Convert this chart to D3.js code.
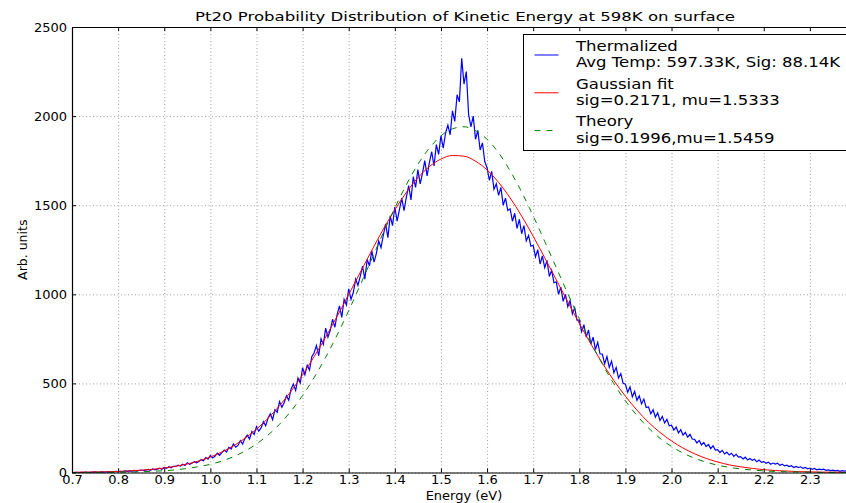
<!DOCTYPE html>
<html>
<head>
<meta charset="utf-8">
<script src="https://cdn.jsdelivr.net/npm/d3@7"></script>
<style>
  body { margin: 0; background: #fff; }
  svg { font-family: "DejaVu Sans", sans-serif; }
</style>
</head>
<body>
<svg width="846" height="503"></svg>
<script>
// thermalized histogram, 0.005 eV bins from 0.700 to 2.400
var blueStart = 0.7, blueStep = 0.005;
var blueValues = [
  0,0,1,0,1, 1,2,0,1,2, 3,1,2,4,2, 3,5,2,4,6,
  4,7,5,9,6, 9,7,12,8,11, 14,10,13,17,12, 20,15,19,24,18,
  28,23,32,26,35, 34,41,36,46,39, 55,46,52,61,54, 62,72,66,84,75,
  95,82,91,108,96, 112,126,115,141,132, 160,142,152,178,160, 192,210,188,230,214,
  258,232,250,285,262, 305,330,296,352,338, 398,366,392,430,405, 468,496,460,530,502,
  588,548,602,575,650, 672,712,655,750,718, 810,760,798,860,815, 888,935,870,972,940,
  1030,972,1010,1085,1050, 1100,1158,1085,1195,1160, 1245,1180,1230,1300,1262, 1330,1395,1318,1440,1385,
  1490,1410,1475,1540,1470, 1545,1610,1530,1660,1600, 1700,1620,1680,1750,1665, 1740,1800,1720,1840,1785,
  1890,1820,1905,1950,1895, 2030,1970,2120,2080,2325, 2180,2250,2010,1940,2000, 1870,1920,1810,1850,1745,
  1710,1640,1690,1590,1620, 1555,1600,1500,1540,1470, 1480,1410,1455,1370,1420, 1340,1385,1300,1330,1270,
  1275,1210,1250,1170,1215, 1150,1190,1100,1135,1065, 1070,1000,1040,960,1000, 930,965,890,925,855,
  855,790,830,760,800, 720,760,690,730,665, 665,610,650,590,625, 560,590,530,555,500,
  495,450,480,425,455, 405,430,385,412,365, 368,330,352,310,335, 292,315,278,298,262,
  265,238,255,222,240, 210,225,198,214,188, 186,166,180,155,168, 146,158,134,150,126,
  128,112,124,104,114, 98,108,90,102,86, 89,76,86,70,79, 68,74,60,70,57,
  61,52,58,46,53, 47,52,40,46,37, 41,33,38,28,34, 28,32,24,29,21,
  25,18,23,15,19, 16,19,12,15,11, 13,9,12,7,10, 8,10,6,9,5,
  7
];

// smooth curves, 0.025 eV apart from 0.700 to 2.400
var curveStart = 0.7, curveStep = 0.025;
var fitValues = [
  1,2,3,4,6,9,13,18,25,35,48,65,87,115,149,192,243,304,375,456,
  548,650,760,877,999,1123,1246,1365,1474,1572,1654,1717,1759,1779,1775,1747,1698,1628,1541,1439,
  1326,1205,1082,958,837,722,614,516,428,350,282,225,177,137,105,79,59,43,32,23,
  16,11,8,5,4,2,2,1,1
];
var theoryValues = [
  0,0,1,1,2,3,4,7,10,15,23,33,46,64,89,120,160,210,271,345,
  432,533,646,772,908,1052,1198,1345,1485,1615,1729,1821,1889,1929,1940,1919,1870,1794,1693,1574,
  1440,1297,1150,1004,863,730,608,498,402,320,250,192,146,109,80,58,41,29,20,14,
  9,6,4,3,2,1,1,0,0
];

var xTicks = [0.7,0.8,0.9,1.0,1.1,1.2,1.3,1.4,1.5,1.6,1.7,1.8,1.9,2.0,2.1,2.2,2.3];
var yTicks = [0,500,1000,1500,2000,2500];

var legendLabels = [
  ["Thermalized", "Avg Temp: 597.33K, Sig: 88.14K"],
  ["Gaussian fit", "sig=0.2171, mu=1.5333"],
  ["Theory", "sig=0.1996,mu=1.5459"]
];
var legendColors = ["#0000ff", "#ff0000", "#008000"];

function drawChart() {
  var pLeft = 72, pTop = 27, pRight = 856, pBottom = 472.5;
  var svg = d3.select("svg");

  var x = d3.scaleLinear().domain([0.7, 2.4]).range([pLeft, pRight]);
  var y = d3.scaleLinear().domain([0, 2500]).range([pBottom, pTop]);

  function series(start, step, vals) {
    return vals.map(function(v, i) { return [start + i * step, v]; });
  }
  function gridStyle(g) {
    g.select(".domain").remove();
    g.selectAll("line").attr("stroke", "#888").attr("stroke-width", 0.8).attr("stroke-dasharray", "1,2.5");
  }

  // grid
  svg.append("g")
    .attr("transform", "translate(0," + pBottom + ")")
    .call(d3.axisBottom(x).tickValues(xTicks).tickSize(-(pBottom - pTop)).tickFormat(""))
    .call(gridStyle);
  svg.append("g")
    .attr("transform", "translate(" + pLeft + ",0)")
    .call(d3.axisLeft(y).tickValues(yTicks).tickSize(-(pRight - pLeft)).tickFormat(""))
    .call(gridStyle);

  svg.append("clipPath").attr("id", "plot")
    .append("rect").attr("x", pLeft).attr("y", pTop)
    .attr("width", pRight - pLeft).attr("height", pBottom - pTop + 2);

  var line = d3.line().x(function(d) { return x(d[0]); }).y(function(d) { return y(d[1]); });
  var smooth = d3.line().curve(d3.curveMonotoneX)
    .x(function(d) { return x(d[0]); }).y(function(d) { return y(d[1]); });

  var plot = svg.append("g").attr("clip-path", "url(#plot)");
  plot.append("path")
    .attr("d", line(series(blueStart, blueStep, blueValues)))
    .attr("fill", "none").attr("stroke", legendColors[0]).attr("stroke-width", 1.2);
  plot.append("path")
    .attr("d", smooth(series(curveStart, curveStep, fitValues)))
    .attr("fill", "none").attr("stroke", legendColors[1]).attr("stroke-width", 1);
  plot.append("path")
    .attr("d", smooth(series(curveStart, curveStep, theoryValues)))
    .attr("fill", "none").attr("stroke", legendColors[2]).attr("stroke-width", 1)
    .attr("stroke-dasharray", "6,6");

  // axes, ticks pointing inward
  function styleAxis(g) {
    g.select(".domain").attr("stroke", "#000").attr("stroke-width", 1.2);
    g.selectAll(".tick line").attr("stroke", "#000");
    g.selectAll(".tick text").attr("fill", "#000").style("font-size", "13px")
      .style("font-family", "DejaVu Sans");
  }
  svg.append("g").attr("transform", "translate(0," + pBottom + ")")
    .call(d3.axisBottom(x).tickValues(xTicks).tickSizeInner(-4).tickSizeOuter(0).tickPadding(2)
      .tickFormat(d3.format(".1f")))
    .call(styleAxis);
  svg.append("g").attr("transform", "translate(0," + pTop + ")")
    .call(d3.axisTop(x).tickValues(xTicks).tickSizeInner(-4).tickSizeOuter(0).tickFormat(""))
    .call(styleAxis);
  svg.append("g").attr("transform", "translate(" + pLeft + ",0)")
    .call(d3.axisLeft(y).tickValues(yTicks).tickSizeInner(-4).tickSizeOuter(0).tickPadding(5)
      .tickFormat(d3.format("d")))
    .call(styleAxis);
  svg.append("g").attr("transform", "translate(" + pRight + ",0)")
    .call(d3.axisRight(y).tickValues(yTicks).tickSizeInner(-4).tickSizeOuter(0).tickFormat(""))
    .call(styleAxis);

  // title and labels
  svg.append("text").attr("x", 465).attr("y", 21)
    .attr("text-anchor", "middle").style("font-size", "13px")
    .attr("textLength", 540).attr("lengthAdjust", "spacingAndGlyphs")
    .text("Pt20 Probability Distribution of Kinetic Energy at 598K on surface");
  svg.append("text").attr("x", 464).attr("y", 500)
    .attr("text-anchor", "middle").style("font-size", "13px")
    .text("Energy (eV)");
  svg.append("text").attr("transform", "translate(27," + ((pTop + pBottom) / 2) + ") rotate(-90)")
    .attr("text-anchor", "middle").style("font-size", "12.5px")
    .text("Arb. units");

  // legend
  var legend = svg.append("g").attr("transform", "translate(523.5,34.5)");
  legend.append("rect").attr("width", 340).attr("height", 116)
    .attr("fill", "#fff").attr("stroke", "#000").attr("stroke-width", 1);
  var item = legend.selectAll("g.item").data(legendLabels).enter()
    .append("g").attr("class", "item")
    .attr("transform", function(d, i) { return "translate(0," + (i * 37.8) + ")"; });
  item.append("line").attr("x1", 11).attr("x2", 35).attr("y1", 20.5).attr("y2", 20.5)
    .attr("stroke", function(d, i) { return legendColors[i]; })
    .attr("stroke-dasharray", function(d, i) { return i == 2 ? "6,6" : null; });
  item.append("text").attr("transform", "translate(52.5,16.2) scale(1.18,1)")
    .style("font-size", "14px").text(function(d) { return d[0]; });
  item.append("text").attr("transform", "translate(52.5,32.4) scale(1.18,1)")
    .style("font-size", "14px").text(function(d) { return d[1]; });
}
drawChart();
</script>
</body>
</html>
